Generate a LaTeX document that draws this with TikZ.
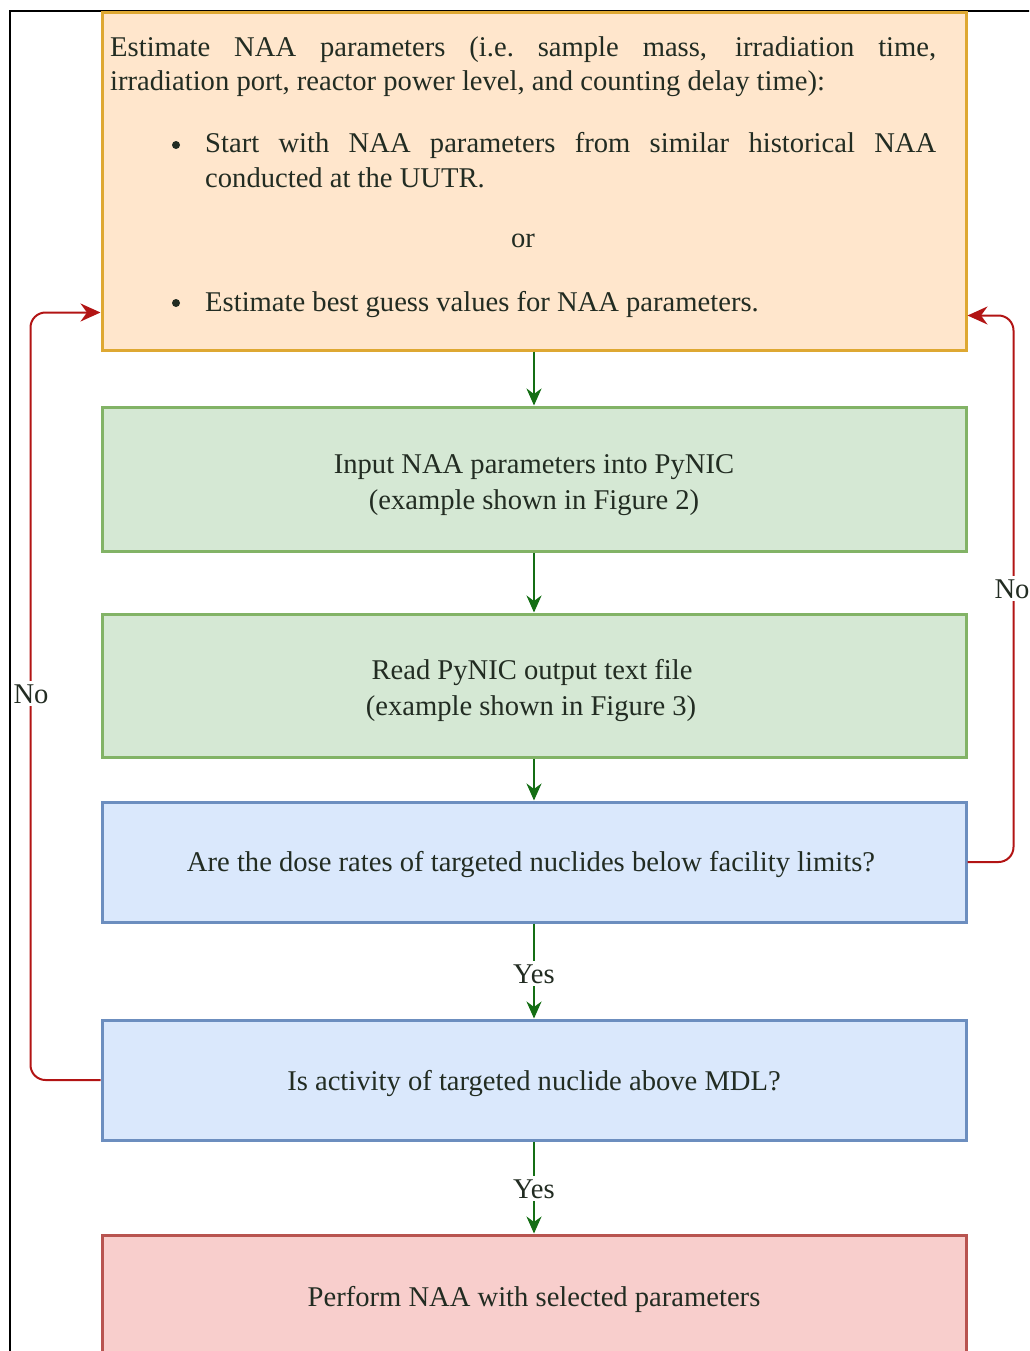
\documentclass[tikz,border=0pt]{standalone}
\usepackage{fontspec}
\setmainfont{Liberation Serif}
\usetikzlibrary{arrows.meta}

\definecolor{ink}{RGB}{34,44,34}
\definecolor{orfill}{RGB}{255,230,204}
\definecolor{ordraw}{RGB}{222,168,50}
\definecolor{grfill}{RGB}{213,232,212}
\definecolor{grdraw}{RGB}{130,179,102}
\definecolor{blfill}{RGB}{218,232,252}
\definecolor{bldraw}{RGB}{108,142,191}
\definecolor{rdfill}{RGB}{248,206,204}
\definecolor{rddraw}{RGB}{184,84,80}
\definecolor{flowgreen}{RGB}{20,110,20}
\definecolor{backred}{RGB}{178,20,20}

\tikzset{
  txt/.style={font=\fontsize{28.6}{34}\selectfont, text=ink, inner sep=0pt},
  bulletdot/.style={circle, fill=ink, inner sep=0pt, minimum size=8pt},
  box/.style={draw, line width=3pt, minimum width=864pt, inner sep=0pt},
  flow/.style={draw=flowgreen, line width=2pt, -{Stealth[length=17pt,width=15pt]}},
  backflow/.style={draw=backred, line width=2pt, rounded corners=15pt, -{Stealth[length=20pt,width=18pt]}},
  tag/.style={txt, fill=white, inner sep=3pt},
}

\begin{document}
\begin{tikzpicture}[x=1pt,y=-1pt]
\useasboundingbox (0,0) rectangle (1029,1351);
\clip (0,0) rectangle (1029,1351);

% outer frame
\draw[line width=2pt, black] (10,1360) -- (10,11) -- (1040,11);

% boxes
\node[box, draw=ordraw, fill=orfill, minimum height=337pt] (box1) at (534,181.5) {};
\node[box, draw=grdraw, fill=grfill, minimum height=144pt] (box2) at (534,479) {};
\node[box, draw=grdraw, fill=grfill, minimum height=143pt] (box3) at (534,685.5) {};
\node[box, draw=bldraw, fill=blfill, minimum height=120pt] (box4) at (534,862) {};
\node[box, draw=bldraw, fill=blfill, minimum height=120pt] (box5) at (534,1080) {};
\node[box, draw=rddraw, fill=rdfill, minimum height=200pt] (box6) at (534,1335) {};

% text of the first box
\node[txt, anchor=base west] (p1a) at (110,57)
  {\makebox[826pt][s]{Estimate NAA parameters (i.e.\ sample mass, irradiation time,}};
\node[txt, anchor=base west] (p1b) at (110,91)
  {irradiation port, reactor power level, and counting delay time):};
\node[bulletdot] (dot1) at (176,145) {};
\node[txt, anchor=base west] (b1a) at (205,153)
  {\makebox[731pt][s]{Start with NAA parameters from similar historical NAA}};
\node[txt, anchor=base west] (b1b) at (205,187) {conducted at the UUTR.};
\node[txt, anchor=base] (or) at (523,247) {or};
\node[bulletdot] (dot2) at (176,303) {};
\node[txt, anchor=base west] (b2) at (205,311) {Estimate best guess values for NAA parameters.};

% text of the other boxes
\node[txt, anchor=base] (t2a) at (534,473) {Input NAA parameters into PyNIC};
\node[txt, anchor=base] (t2b) at (534,509) {(example shown in Figure 2)};
\node[txt, anchor=base] (t3a) at (532,679) {Read PyNIC output text file};
\node[txt, anchor=base] (t3b) at (531,715) {(example shown in Figure 3)};
\node[txt, anchor=base] (t4) at (531,871) {Are the dose rates of targeted nuclides below facility limits?};
\node[txt, anchor=base] (t5) at (534,1090) {Is activity of targeted nuclide above MDL?};
\node[txt, anchor=base] (t6) at (534,1306) {Perform NAA with selected parameters};

% forward connectors
\draw[flow] (box1.south) -- (box2.north);
\draw[flow] (box2.south) -- (box3.north);
\draw[flow] (box3.south) -- (box4.north);
\draw[flow] (box4.south) -- (box5.north);
\draw[flow] (box5.south) -- (box6.north);
\node[tag, anchor=base] (yes1) at (534,983) {Yes};
\node[tag, anchor=base] (yes2) at (534,1198) {Yes};

% loops back to the first box
\draw[backflow] (box5.west) -| ([xshift=-70pt,yshift=39pt]box1.south west)
  -- ([yshift=39pt]box1.south west);
\draw[backflow] (box4.east) -| ([xshift=46pt,yshift=36pt]box1.south east)
  -- ([yshift=36pt]box1.south east);
\node[tag, anchor=base] (no1) at (31,703) {No};
\node[tag, anchor=base] (no2) at (1012,598) {No};
\end{tikzpicture}
\end{document}
